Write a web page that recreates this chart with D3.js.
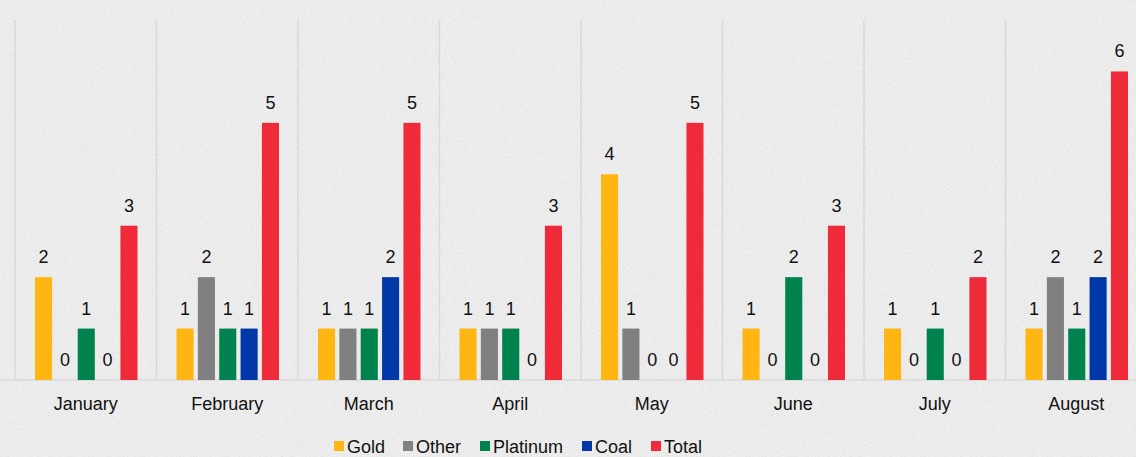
<!DOCTYPE html>
<html>
<head>
<meta charset="utf-8">
<script src="https://cdn.jsdelivr.net/npm/d3@7"></script>
<style>
  html, body { margin: 0; padding: 0; background: #ededed; }
  svg { display: block; font-family: 'Liberation Sans', Arial, sans-serif; }
</style>
</head>
<body>
<svg id="chart" width="1136" height="457"></svg>
<script>
// chart data
const months = ['January', 'February', 'March', 'April', 'May', 'June', 'July', 'August'];
const seriesNames = ['Gold', 'Other', 'Platinum', 'Coal', 'Total'];
const gold     = [2, 1, 1, 1, 4, 1, 1, 1];
const other    = [0, 2, 1, 1, 1, 0, 0, 2];
const platinum = [1, 1, 1, 1, 0, 2, 1, 1];
const coal     = [0, 1, 2, 0, 0, 0, 0, 2];
const total    = [3, 5, 5, 3, 5, 3, 2, 6];
const colors = ['#FFB612', '#808080', '#00824E', '#0038A8', '#EF2B39'];

const seriesValues = [gold, other, platinum, coal, total];

const svg = d3.select('#chart');
const W = 1136, H = 457;
const FS = 18;

// paper-ish background texture
const defs = svg.append('defs');
const f = defs.append('filter').attr('id', 'paper').attr('x', 0).attr('y', 0)
  .attr('width', '100%').attr('height', '100%');
f.append('feTurbulence').attr('type', 'fractalNoise').attr('baseFrequency', 0.9)
  .attr('numOctaves', 2).attr('seed', 3).attr('result', 'noise');
f.append('feColorMatrix').attr('type', 'matrix')
  .attr('values', '0 0 0 0 0.45  0 0 0 0 0.45  0 0 0 0 0.45  0 0 0 -1.1 0.62');
svg.append('rect').attr('width', W).attr('height', H).attr('fill', '#eeeeee');
svg.append('rect').attr('width', W).attr('height', H).attr('filter', 'url(#paper)').attr('opacity', 0.45);

const x0 = d3.scaleBand().domain(months).range([15, 15 + 8 * 141.5]).padding(0);
const bw = x0.bandwidth();
const x1 = d3.scaleBand().domain(seriesNames).range([20, bw - 19]).paddingInner(0.2);
const y = d3.scaleLinear().domain([0, 7]).range([380, 20]);

// vertical separators
svg.append('g').selectAll('line')
  .data(months)
  .join('line')
  .attr('x1', d => x0(d)).attr('x2', d => x0(d))
  .attr('y1', y(7)).attr('y2', y(0))
  .attr('stroke', '#d9d9d9').attr('stroke-width', 1.5);

// baseline axis
const xAxis = svg.append('g').attr('transform', `translate(0,${y(0)})`)
  .call(d3.axisBottom(x0).tickSize(0).tickPadding(17));
xAxis.select('.domain').attr('d', `M0,0H${W}`).attr('stroke', '#d9d9d9').attr('stroke-width', 1.5);
xAxis.selectAll('text').attr('font-size', FS).attr('fill', '#111')
  .attr('font-family', "'Liberation Sans', Arial, sans-serif");

// bars
const groups = svg.append('g').selectAll('g')
  .data(months)
  .join('g')
  .attr('transform', d => `translate(${x0(d)},0)`);

const cells = groups.selectAll('g')
  .data((m, i) => seriesNames.map((s, j) => ({ s, j, v: seriesValues[j][i] })))
  .join('g');

cells.append('rect')
  .attr('x', d => x1(d.s))
  .attr('width', x1.bandwidth())
  .attr('y', d => y(d.v))
  .attr('height', d => y(0) - y(d.v))
  .attr('fill', d => colors[d.j]);

cells.append('text')
  .attr('x', d => x1(d.s) + x1.bandwidth() / 2)
  .attr('y', d => y(d.v) - 14)
  .attr('text-anchor', 'middle')
  .attr('font-size', FS)
  .attr('fill', '#111')
  .text(d => d.v);

// legend
const legendItems = [
  { name: 'Gold', x: 334 },
  { name: 'Other', x: 403 },
  { name: 'Platinum', x: 480 },
  { name: 'Coal', x: 582 },
  { name: 'Total', x: 651 }
];
const legend = svg.append('g');
const li = legend.selectAll('g')
  .data(legendItems)
  .join('g')
  .attr('transform', d => `translate(${d.x},446)`);
li.append('rect').attr('x', 0).attr('y', -5).attr('width', 10).attr('height', 10)
  .attr('fill', (d, i) => colors[i]);
li.append('text').attr('x', 13).attr('y', 6.5).attr('font-size', FS).attr('fill', '#111')
  .text(d => d.name);
</script>
</body>
</html>
